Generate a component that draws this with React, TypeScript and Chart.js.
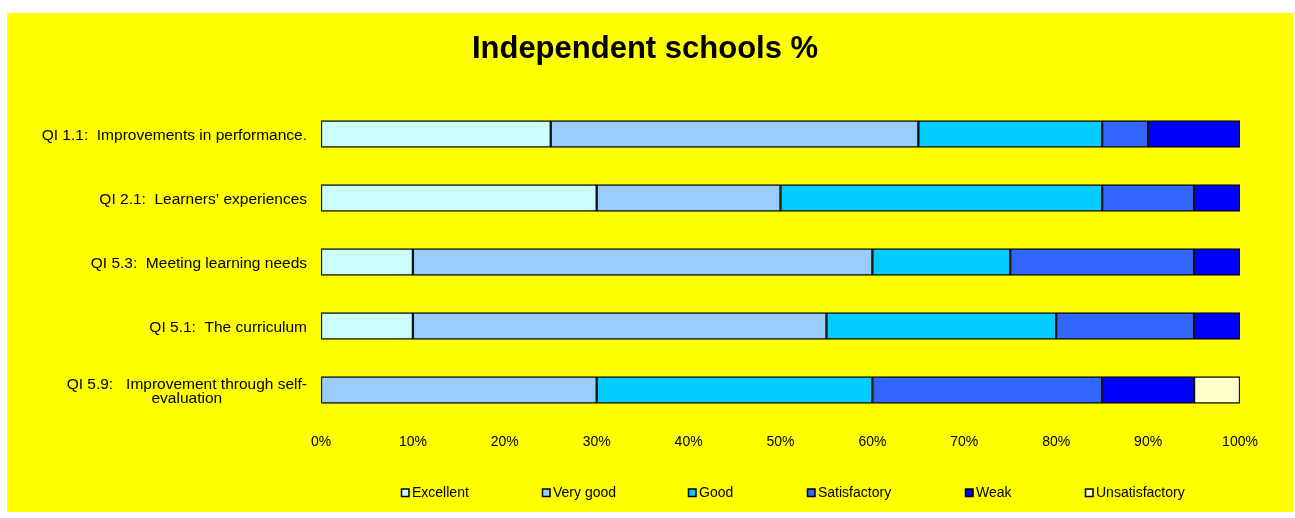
import React, { useEffect, useRef } from "react";
import { Chart, registerables } from "chart.js";

Chart.register(...registerables);

const chartTitle = "Independent schools %";
const categories: string[][] = [
  ["QI 1.1:  Improvements in performance."],
  ["QI 2.1:  Learners’ experiences"],
  ["QI 5.3:  Meeting learning needs"],
  ["QI 5.1:  The curriculum"],
  ["QI 5.9:   Improvement through self-", "evaluation"],
];
const seriesNames = ["Excellent", "Very good", "Good", "Satisfactory", "Weak", "Unsatisfactory"];
const excellent = [25, 30, 10, 10, null];
const veryGood = [40, 20, 50, 45, 30];
const good = [20, 35, 15, 25, 30];
const satisfactory = [5, 10, 20, 15, 25];
const weak = [10, 5, 5, 5, 10];
const unsatisfactory = [null, null, null, null, 5];
const seriesColors = ["#CCFFFF", "#99CCFF", "#00CCFF", "#3366FF", "#0000FF", "#FFFFCC"];
const xMin = 0;
const xMax = 100;
const xStep = 10;

const FONT = "'Liberation Sans', Arial, sans-serif";

export default function App() {
  const ref = useRef<HTMLCanvasElement | null>(null);

  useEffect(() => {
    if (!ref.current) return;
    const seriesValues = [excellent, veryGood, good, satisfactory, weak, unsatisfactory];
    const legendX = [394, 535, 681, 800, 958, 1078];

    const decor = {
      id: "decor",
      afterDraw(chart: any) {
        const ctx = chart.ctx;
        ctx.save();
        // title
        ctx.fillStyle = "#000";
        ctx.font = `bold 31px ${FONT}`;
        ctx.textAlign = "center";
        ctx.textBaseline = "middle";
        ctx.fillText(chartTitle, 638, 36);
        // y labels
        const ys = chart.scales.y;
        ctx.font = `15.5px ${FONT}`;
        ctx.textBaseline = "middle";
        const rightEdge = chart.chartArea.left - 14;
        const lh = 14;
        categories.forEach((lines, i) => {
          const cy = ys.getPixelForValue(i) + 1.5;
          const maxW = Math.max(...lines.map((l) => ctx.measureText(l).width));
          const cx = rightEdge - maxW / 2;
          const startY = cy - ((lines.length - 1) * lh) / 2;
          lines.forEach((l, j) => {
            ctx.textAlign = "center";
            ctx.fillText(l, cx, startY + j * lh);
          });
        });
        // legend
        ctx.font = `14px ${FONT}`;
        ctx.textAlign = "left";
        const ly = 480;
        seriesNames.forEach((name, i) => {
          const x = legendX[i];
          ctx.fillStyle = seriesColors[i];
          ctx.fillRect(x + 0.5, ly - 4, 7.5, 7.5);
          ctx.strokeStyle = "#000";
          ctx.lineWidth = 1.5;
          ctx.strokeRect(x + 0.5, ly - 4, 7.5, 7.5);
          ctx.fillStyle = "#000";
          ctx.fillText(name, x + 11, ly);
        });
        ctx.restore();
      },
    };

    const chart = new Chart(ref.current, {
      type: "bar",
      data: {
        labels: categories.map((c) => c.join(" ")),
        datasets: seriesNames.map((name, i) => ({
          label: name,
          data: seriesValues[i] as any,
          backgroundColor: seriesColors[i],
          borderColor: "#111",
          borderWidth: 1.5,
          borderSkipped: false,
          barThickness: 27,
        })),
      },
      options: {
        animation: false,
        responsive: false,
        devicePixelRatio: 1,
        indexAxis: "y",
        layout: { padding: { left: 314, right: 53, top: 89, bottom: 60 } },
        scales: {
          x: {
            stacked: true,
            min: xMin,
            max: xMax,
            ticks: {
              stepSize: xStep,
              callback: (v: any) => v + "%",
              font: { family: FONT, size: 14 },
              color: "#000",
              padding: 12,
              maxRotation: 0,
              autoSkip: false,
            },
            grid: { display: false, drawTicks: false },
            border: { display: false },
            afterFit: (s: any) => {
              s.height = 30;
            },
          },
          y: { stacked: true, display: false },
        },
        plugins: {
          legend: { display: false },
          title: { display: false },
          tooltip: { enabled: false },
        },
      },
      plugins: [decor],
    } as any);
    return () => chart.destroy();
  }, []);

  return (
    <div style={{ position: "fixed", left: 0, top: 0, width: 1295, height: 518, background: "#fff" }}>
      <div style={{ position: "absolute", left: 7, top: 13, width: 1286, height: 499, background: "#FFFF00" }}>
        <canvas ref={ref} width={1286} height={499} style={{ display: "block", width: 1286, height: 499 }} />
      </div>
    </div>
  );
}
